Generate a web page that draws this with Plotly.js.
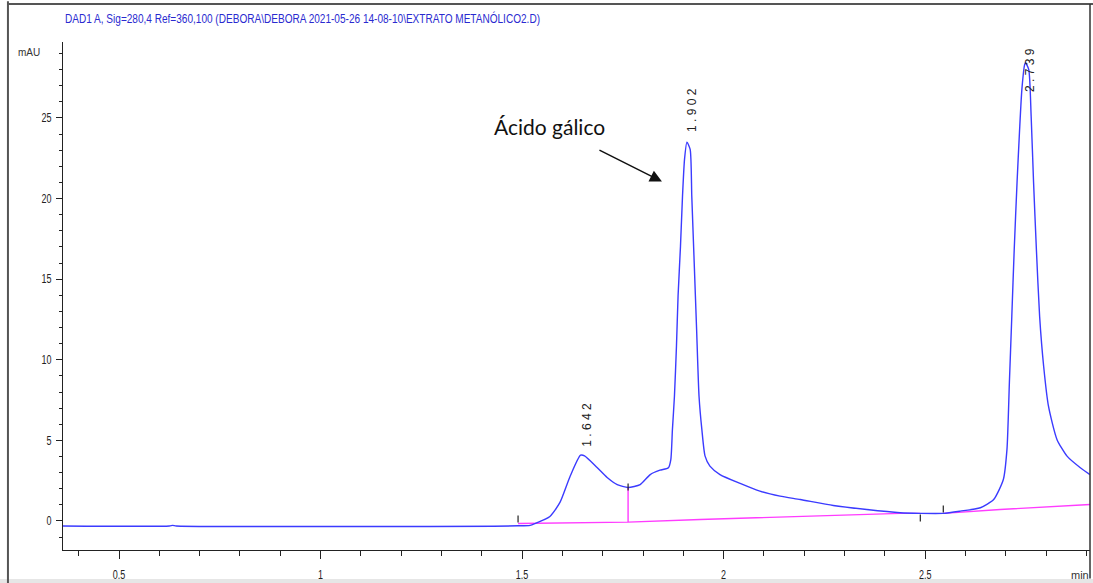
<!DOCTYPE html>
<html>
<head>
<meta charset="utf-8">
<script src="https://cdn.plot.ly/plotly-3.0.1.min.js"></script>
<style>html,body{margin:0;padding:0;background:#fff;}#chart{width:1093px;height:583px;}</style>
</head>
<body>
<div id="chart"></div>
<script>
// Retention time (min) and absorbance (mAU) of the DAD1 A signal
const timeMin = [0.361, 0.625, 0.633, 0.642, 1.490, 1.520, 1.532, 1.569, 1.594, 1.619, 1.645, 1.655, 1.686, 1.711, 1.736, 1.763, 1.793, 1.818, 1.842, 1.863, 1.869, 1.873, 1.878, 1.883, 1.887, 1.893, 1.898, 1.903, 1.909, 1.917, 1.921, 1.927, 1.933, 1.939, 1.946, 1.954, 1.966, 1.991, 2.041, 2.090, 2.140, 2.190, 2.272, 2.355, 2.438, 2.488, 2.545, 2.587, 2.637, 2.670, 2.694, 2.703, 2.709, 2.715, 2.721, 2.728, 2.734, 2.740, 2.747, 2.749, 2.757, 2.763, 2.769, 2.776, 2.784, 2.794, 2.806, 2.827, 2.852, 2.885, 2.909];
const signalMAU = [-0.31, -0.31, -0.27, -0.31, -0.30, -0.27, -0.16, 0.28, 1.15, 2.76, 4.08, 4.04, 3.32, 2.70, 2.26, 2.08, 2.26, 2.88, 3.15, 3.30, 3.81, 5.68, 7.74, 10.84, 13.95, 17.05, 20.15, 22.43, 23.50, 23.05, 20.15, 16.04, 11.88, 7.74, 5.68, 4.02, 3.40, 2.88, 2.33, 1.85, 1.54, 1.33, 0.96, 0.71, 0.51, 0.47, 0.47, 0.61, 0.82, 1.33, 2.57, 4.44, 8.59, 12.70, 16.84, 21.00, 24.10, 26.77, 28.32, 28.42, 28.01, 25.11, 21.00, 16.84, 12.70, 9.60, 7.12, 5.06, 4.02, 3.30, 2.88];

// Integration baseline (magenta)
const baseTimeA = [1.490, 1.763, 1.942, 2.073, 2.272, 2.438, 2.488];
const baseMAUA  = [-0.16, -0.07, 0.09, 0.20, 0.34, 0.47, 0.47];
const baseTimeB = [2.545, 2.686, 2.909];
const baseMAUB  = [0.47, 0.71, 1.02];
// Drop line between peaks
const dropTime = [1.763, 1.763];
const dropMAU  = [-0.07, 2.08];

// Peak retention times and label heights
const peakTimes  = [1.642, 1.902, 2.739];
const peakLabels = ["1 . 6 4 2", "1 . 9 0 2", "2 . 7 3 9"];
const peakLabelY = [5.99, 25.5, 28.0];

// Integration event marks
const eventTime = [1.490, 1.763, 2.488, 2.545];
const eventMAU  = [-0.16, 2.08, 0.47, 0.47];
const eventDir  = [1, 0, -1, 1];

const xTickVals = [0.5, 1, 1.5, 2, 2.5];
const yTickVals = [0, 5, 10, 15, 20, 25];

const sans = "Liberation Sans, Arial, sans-serif";
const blue = "#3b3bff";
const magenta = "#ff3cff";

const traces = [
  {x: baseTimeA, y: baseMAUA, mode: "lines", line: {color: magenta, width: 1.4}, hoverinfo: "skip"},
  {x: baseTimeB, y: baseMAUB, mode: "lines", line: {color: magenta, width: 1.4}, hoverinfo: "skip"},
  {x: dropTime, y: dropMAU, mode: "lines", line: {color: magenta, width: 1.4}, hoverinfo: "skip"},
  {x: timeMin, y: signalMAU, mode: "lines", line: {color: blue, width: 1.4, shape: "spline", smoothing: 0.6}}
];

const shapes = [];
eventTime.forEach((t, i) => {
  const d = eventDir[i];
  let y0, y1;
  if (d === 1) { y0 = 1; y1 = 8; } else if (d === -1) { y0 = -1; y1 = -8; } else { y0 = -3; y1 = 4; }
  shapes.push({type: "line", xref: "x", yref: "y", x0: t, x1: t, ysizemode: "pixel", yanchor: eventMAU[i], y0: y0, y1: y1, line: {color: "#222", width: 1.2}});
});
shapes.push({type: "line", xref: "paper", yref: "paper", x0: -0.0536, x1: -0.0536, y0: 1.08, y1: -0.07, line: {color: "#555", width: 2}});
shapes.push({type: "line", xref: "paper", yref: "paper", x0: -0.0536, x1: 1.01, y0: 1.075, y1: 1.075, line: {color: "#555", width: 2}});
shapes.push({type: "line", xref: "paper", yref: "paper", x0: 1.0, x1: 1.0, y0: 1.075, y1: -0.056, line: {color: "#333", width: 1.5}});
shapes.push({type: "rect", xref: "paper", yref: "paper", x0: -0.07, x1: 1.01, y0: -0.057, y1: -0.07, fillcolor: "#e6e6e6", line: {width: 0}, layer: "below"});

const annotations = [];
peakTimes.forEach((t, i) => {
  annotations.push({x: t, y: peakLabelY[i], xref: "x", yref: "y", text: peakLabels[i], showarrow: false, textangle: -90, xshift: 8, font: {family: sans, size: 12, color: "#222"}});
});
annotations.push({x: 1.847, y: 21.06, xref: "x", yref: "y", text: "", showarrow: true, ax: -64, ay: -32, arrowhead: 2, arrowsize: 1.6, arrowwidth: 1.5, arrowcolor: "#111"});
annotations.push({x: 1.567, y: 24.45, xref: "x", yref: "y", text: "Ácido gálico", showarrow: false, xanchor: "center", font: {family: "Lato, sans-serif", size: 21, color: "#111"}});
annotations.push({x: -0.02, y: 0.98, xref: "paper", yref: "paper", text: "mAU", showarrow: false, xanchor: "right", yanchor: "middle", font: {family: sans, size: 10, color: "#333"}});
annotations.push({x: 0.99, y: -0.05, xref: "paper", yref: "paper", text: "min", showarrow: false, xanchor: "center", yanchor: "middle", font: {family: sans, size: 11, color: "#333"}});

const layout = {
  width: 1093, height: 583,
  margin: {l: 63, r: 3, t: 42, b: 33},
  paper_bgcolor: "#fff", plot_bgcolor: "#fff",
  showlegend: false,
  title: {text: "DAD1 A, Sig=280,4 Ref=360,100 (DEBORA\\DEBORA 2021-05-26 14-08-10\\EXTRATO METANÓLICO2.D)", x: 65/1093, xanchor: "left", xref: "container", y: 1 - 19/583, yref: "container", yanchor: "middle", font: {family: sans, size: 12, color: "#2a2ad0"}},
  xaxis: {range: [0.361, 2.909], tickvals: xTickVals, ticktext: xTickVals.map(String), ticks: "outside", ticklen: 8, tickwidth: 1, tickcolor: "#222", showline: true, linecolor: "#222", linewidth: 1, showgrid: false, zeroline: false, ticklabelstandoff: 6, tickfont: {family: sans, size: 12, color: "#222"}, minor: {dtick: 0.1, tick0: 0.5, ticks: "outside", ticklen: 5, tickcolor: "#222", showgrid: false}},
  yaxis: {range: [-1.80, 29.71], tickvals: yTickVals, ticks: "outside", ticklen: 6, tickwidth: 1, tickcolor: "#222", showline: true, linecolor: "#222", linewidth: 1, showgrid: false, zeroline: false, ticklabelstandoff: 2, tickfont: {family: sans, size: 12, color: "#222"}, minor: {dtick: 1, tick0: 0, ticks: "outside", ticklen: 3, tickcolor: "#222", showgrid: false}},
  shapes: shapes,
  annotations: annotations
};

function narrowText(el, factor) {
  try {
    const len = el.getComputedTextLength();
    if (len > 0) {
      el.setAttribute("textLength", (len * factor).toFixed(1));
      el.setAttribute("lengthAdjust", "spacingAndGlyphs");
    }
  } catch (e) {}
}

Plotly.newPlot("chart", traces, layout, {displayModeBar: false, staticPlot: true}).then(function (gd) {
  const t = gd.querySelector("text.gtitle");
  if (t) { t.setAttribute("textLength", "475"); t.setAttribute("lengthAdjust", "spacingAndGlyphs"); }
  gd.querySelectorAll(".xtick text, .ytick text").forEach(function (el) { narrowText(el, 0.75); });
});
</script>
</body>
</html>
